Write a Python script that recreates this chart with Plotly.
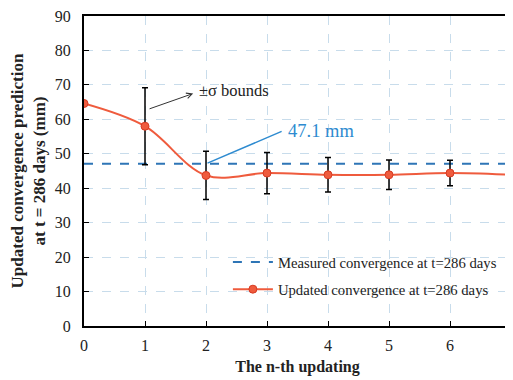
import plotly.graph_objects as go

updates = [0, 1, 2, 3, 4, 5, 6, 7]
predicted = [64.6, 58.0, 43.7, 44.4, 43.9, 43.9, 44.4, 43.9]
sigma = [None, 11.2, 7.0, 6.0, 5.0, 4.3, 3.7, 3.6]
measured = 47.1
x_ticks = [0, 1, 2, 3, 4, 5, 6, 7]
y_ticks = [0, 10, 20, 30, 40, 50, 60, 70, 80, 90]

FONT = "Liberation Serif, Times New Roman, serif"
RED = "#EF5B3D"
BLUE = "#2E75B6"

fig = go.Figure()
fig.add_trace(go.Scatter(
    x=[updates[0], updates[-1]], y=[measured, measured], mode="lines",
    line=dict(color=BLUE, width=2, dash="dash"),
    name="Measured convergence at t=286 days", legendgroup="a"))
fig.add_trace(go.Scatter(
    x=updates, y=predicted, mode="lines+markers",
    line=dict(color=RED, width=2, shape="spline", smoothing=1.0),
    marker=dict(symbol="circle", size=8, color=RED, line=dict(color="#D63A22", width=1)),
    error_y=dict(type="data", array=sigma, visible=True, color="black", thickness=1.5, width=3),
    name="Updated convergence at t=286 days", legendgroup="b"))

# page has an 8px body margin: figure is 8px smaller and margins compensated
fig.add_annotation(x=1.79, y=67.5, ax=1.05, ay=62.9, axref="x", ayref="y", xref="x", yref="y",
                   text="", showarrow=True, arrowhead=5, arrowsize=1.1, arrowwidth=1, arrowcolor="#333333")
fig.add_annotation(x=1.86, y=68.3, xref="x", yref="y", text="±σ bounds", showarrow=False,
                   xanchor="left", yanchor="middle", font=dict(family=FONT, size=16.5, color="#222222"))
fig.add_annotation(x=3.24, y=56.5, ax=2.0, ay=measured, axref="x", ayref="y", xref="x", yref="y",
                   text="", showarrow=True, arrowhead=0, arrowwidth=1.5, arrowcolor="#2E8BD0")
fig.add_annotation(x=3.31, y=56.5, xref="x", yref="y", text="47.1 mm", showarrow=False,
                   xanchor="left", yanchor="middle", font=dict(family=FONT, size=18.5, color="#2E8BD0"))

fig.update_layout(
    width=505, height=372,
    margin=dict(l=76, r=2, t=8, b=54, autoexpand=False),
    paper_bgcolor="white", plot_bgcolor="white",
    font=dict(family=FONT, size=16, color="#222222"),
    showlegend=True,
    legend=dict(x=0.337, y=0.258, xanchor="left", yanchor="top", bgcolor="rgba(255,255,255,0)",
                font=dict(family=FONT, size=14.7, color="#222222"), itemwidth=40,
                traceorder="grouped", tracegroupgap=5),
)
fig.update_xaxes(range=[0, 7], tickvals=x_ticks, ticks="inside", ticklen=5, tickcolor="black",
                 showline=True, linecolor="black", linewidth=2, mirror=True, automargin=False,
                 showgrid=True, gridcolor="#C8DCEB", griddash="dash", gridwidth=1,
                 zeroline=False, tickfont=dict(family=FONT, size=16), ticklabelstandoff=4,
                 ticklabeloverflow="allow",
                 title=dict(text="<b>The n-th updating</b>", font=dict(family=FONT, size=16), standoff=8))
fig.update_yaxes(range=[0, 90], tickvals=y_ticks, ticks="inside", ticklen=5, tickcolor="black",
                 showline=True, linecolor="black", linewidth=2, mirror=True, automargin=False,
                 showgrid=True, gridcolor="#C8DCEB", griddash="dash", gridwidth=1,
                 zeroline=False, tickfont=dict(family=FONT, size=16), ticklabelstandoff=8,
                 ticklabeloverflow="allow",
                 title=dict(text="<b>Updated convergence prediction<br>at t = 286 days (mm)</b>",
                            font=dict(family=FONT, size=17), standoff=6))

fig.write_html("out.html")
